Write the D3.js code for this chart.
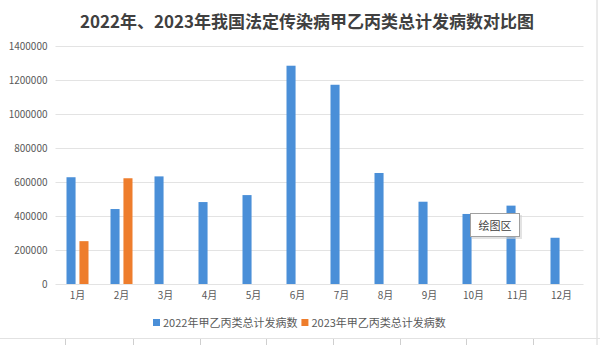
<!DOCTYPE html>
<html><head><meta charset="utf-8">
<script src="https://cdn.jsdelivr.net/npm/d3@7"></script>
<style>
html,body{margin:0;padding:0;background:#fff;}
svg{display:block;font-family:"Noto Sans CJK SC","Noto Sans",sans-serif;}
</style></head>
<body>
<svg id="chart" width="600" height="345"></svg>
<script>
const months = ["1月","2月","3月","4月","5月","6月","7月","8月","9月","10月","11月","12月"];
const seriesNames = ["2022年甲乙丙类总计发病数","2023年甲乙丙类总计发病数"];
const values2022 = [628000,441000,633000,482000,523000,1284000,1172000,653000,484000,412000,461000,272000];
const values2023 = [252000,622000,null,null,null,null,null,null,null,null,null,null];
const yTicks = [0,200000,400000,600000,800000,1000000,1200000,1400000];
const title = "2022年、2023年我国法定传染病甲乙丙类总计发病数对比图";
const colors = ["#4a8fd8","#ee7d2c"];

const svg = d3.select("#chart");
const m = {left:55.5, right:583.5, top:46, bottom:284};

// faint spreadsheet remnants
svg.append("line").attr("x1",597).attr("x2",597).attr("y1",0).attr("y2",345).attr("stroke","#d6d6d6");
svg.append("line").attr("x1",0).attr("x2",600).attr("y1",338.5).attr("y2",338.5).attr("stroke","#e2e2e2");
[65,133,200,266,333,400,466,533].forEach(x=>{
  svg.append("line").attr("x1",x+0.5).attr("x2",x+0.5).attr("y1",339).attr("y2",345).attr("stroke","#cfcfcf");
});

svg.append("text").attr("x",307).attr("y",28).attr("text-anchor","middle")
  .attr("font-size",17).attr("font-weight","bold").attr("fill","#404040").text(title);

const x0 = d3.scaleBand().domain(months).range([m.left,m.right]).padding(0);
const x1 = d3.scaleBand().domain([0,1]).range([x0.bandwidth()*0.25, x0.bandwidth()*0.75]).paddingInner(0.3);
const y = d3.scaleLinear().domain([0,1400000]).range([m.bottom,m.top]);

// gridlines
svg.append("g").selectAll("line").data(yTicks).join("line")
  .attr("x1",m.left).attr("x2",m.right)
  .attr("y1",d=>Math.round(y(d))+0.5).attr("y2",d=>Math.round(y(d))+0.5)
  .attr("stroke","#e3e3e3").attr("stroke-width",1);

// y axis labels
const yAxis = d3.axisLeft(y).tickValues(yTicks).tickSize(0).tickPadding(8).tickFormat(d3.format("d"));
const ga = svg.append("g").attr("transform",`translate(${m.left},0)`).call(yAxis);
ga.select(".domain").remove();
ga.selectAll("text").attr("font-size",10).attr("fill","#595959").attr("font-family","'Noto Sans CJK SC',sans-serif");

// x axis labels
const xAxis = d3.axisBottom(x0).tickSize(0).tickPadding(8);
const gx = svg.append("g").attr("transform",`translate(0,${m.bottom})`).call(xAxis);
gx.select(".domain").remove();
gx.selectAll("text").attr("font-size",10).attr("fill","#595959").attr("font-family","'Noto Sans CJK SC',sans-serif");

const allSeries = [values2022, values2023];
const data = [];
months.forEach((mo,i)=>allSeries.forEach((s,k)=>{ if(s[i]!=null) data.push({mo,k,v:s[i]}); }));
svg.append("g").selectAll("rect").data(data).join("rect")
  .attr("x",d=>x0(d.mo)+x1(d.k)).attr("width",x1.bandwidth())
  .attr("y",d=>y(d.v)).attr("height",d=>y(0)-y(d.v))
  .attr("fill",d=>colors[d.k]);

// legend
const lg = svg.append("g").attr("font-size",11).attr("fill","#595959");
let lx = 153;
seriesNames.forEach((n,k)=>{
  lg.append("rect").attr("x",lx).attr("y",319).attr("width",7).attr("height",7).attr("fill",colors[k]);
  const t = lg.append("text").attr("x",lx+10).attr("y",327).text(n).attr("fill","#595959");
  lx += 10 + t.node().getComputedTextLength() + 4;
});

// tooltip "绘图区"
const tip = svg.append("g");
tip.append("rect").attr("x",472).attr("y",215).attr("width",50).attr("height",24).attr("fill","#d0d0d0").attr("opacity",0.6);
tip.append("rect").attr("x",470.5).attr("y",213.5).attr("width",49).attr("height",23).attr("fill","#fff").attr("stroke","#a0a0a0");
tip.append("text").attr("x",495).attr("y",229.5).attr("text-anchor","middle").attr("font-size",11).attr("fill","#404040").text("绘图区");
</script>
</body></html>
